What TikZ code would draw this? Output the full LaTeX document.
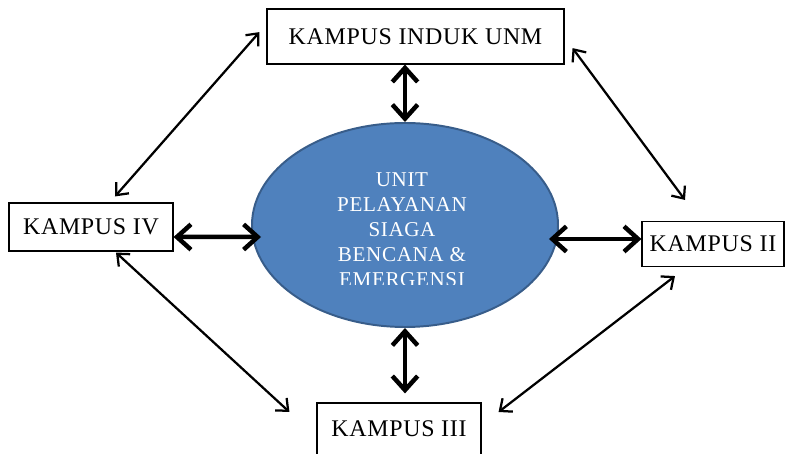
\documentclass[tikz,border=0pt]{standalone}
\usepackage{fontspec}
\setmainfont{Liberation Serif}
\usetikzlibrary{arrows.meta,shapes.geometric}
\definecolor{unitfill}{HTML}{4F81BD}
\definecolor{unitdraw}{HTML}{385D8A}

\begin{document}
\begin{tikzpicture}[kampus/.style={draw,rectangle,line width=0.8pt,inner sep=0pt,font=\fontsize{17}{20}\selectfont\addfontfeatures{LetterSpace=3}},bigarrow/.style={draw=black, line width=3.2pt, {Straight Barb[length=10pt,width=18pt]}-{Straight Barb[length=10pt,width=18pt]}},thinarrow/.style={draw=black, line width=1.6pt, {Straight Barb[length=7pt,width=12pt]}-{Straight Barb[length=7pt,width=12pt]}}]
  \useasboundingbox (-10.125,-5.725) rectangle (9.55,5.625);

  \node[ellipse,draw=unitdraw,fill=unitfill,line width=1.4pt,minimum width=7.65cm,minimum height=5.1cm,inner sep=0pt] (unit) at (0,0) {};
  \begin{scope}
    \clip (-3.5,-1.5) rectangle (3.5,2.5);
    \node[align=center,text=white,font=\fontsize{15}{17.8}\selectfont\addfontfeatures{LetterSpace=3}] (unitlabel) at (-0.075,-0.125) {UNIT\\PELAYANAN\\SIAGA\\BENCANA \&\\EMERGENSI};
  \end{scope}

  \node[kampus,minimum width=7.425cm,minimum height=1.375cm] (induk) at (0.2625,4.7125) {KAMPUS INDUK UNM};
  \node[kampus,minimum width=4.1cm,minimum height=1.2cm] (iv) at (-7.85,-0.05) {KAMPUS IV};
  \node[kampus,minimum width=3.55cm,minimum height=1.125cm] (ii) at (7.7,-0.475) {KAMPUS II};
  \node[kampus,minimum width=4.1cm,minimum height=1.3cm] (iii) at (-0.15,-5.1) {KAMPUS III};
  \coordinate (iiitop) at ([yshift=0.225cm]iii.north);

  \draw[bigarrow] (unit.north |- induk.south) -- (unit.north);
  \draw[bigarrow] ([yshift=-0.25cm]iv.east) -- ([xshift=0.25cm,yshift=-0.3cm]unit.west);
  \draw[bigarrow] ([xshift=-0.25cm,yshift=-0.35cm]unit.east) -- ([yshift=0.125cm]ii.west);
  \draw[bigarrow] (unit.south) -- (unit.south |- iiitop);

  \draw[thinarrow] ([xshift=0.6cm,yshift=0.15cm]iv.north) -- ([xshift=-0.175cm,yshift=0.11cm]induk.west);
  \draw[thinarrow] ([xshift=0.2cm,yshift=-0.29cm]induk.east) -- ([xshift=-0.7cm,yshift=0.525cm]ii.north);
  \draw[thinarrow] ([xshift=0.625cm,yshift=-0.025cm]iv.south) -- ([xshift=-0.675cm,yshift=0.425cm]iii.west);
  \draw[thinarrow] ([xshift=-0.95cm,yshift=-0.225cm]ii.south) -- ([xshift=0.425cm,yshift=0.425cm]iii.east);

\end{tikzpicture}
\end{document}
